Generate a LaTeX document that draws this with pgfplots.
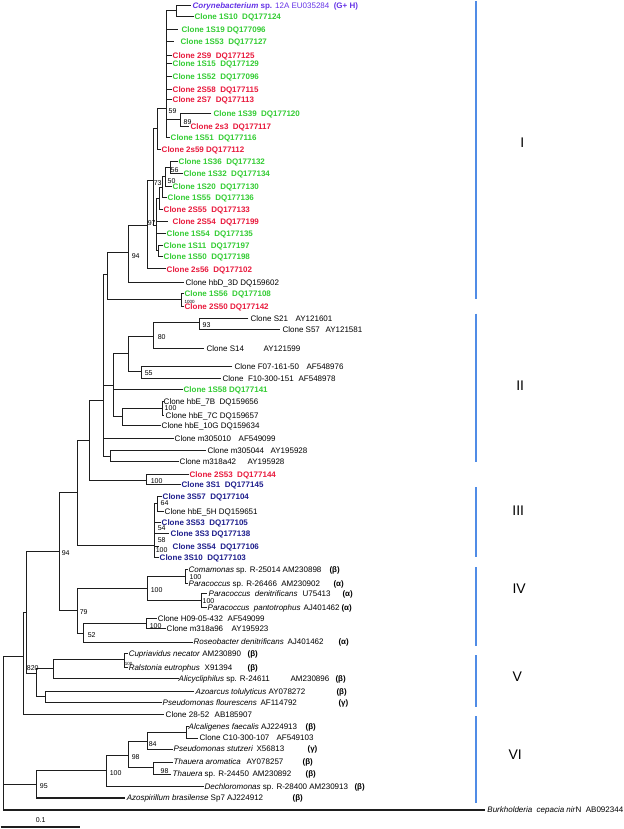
\documentclass[border=0pt]{standalone}
\usepackage{pgfplots}
\pgfplotsset{compat=1.18}
\usepackage{fontspec}
\setmainfont{Liberation Sans}
\definecolor{cg}{RGB}{51,204,51}
\definecolor{cr}{RGB}{232,25,60}
\definecolor{cb}{RGB}{30,30,140}
\definecolor{cp}{RGB}{100,50,230}
\definecolor{bar}{RGB}{80,140,230}
\definecolor{tree}{RGB}{30,30,30}
\tikzset{lbl/.style={anchor=base west,inner sep=0pt,yshift=-2.9pt,font=\fontsize{8}{9.6}\selectfont},
 bs/.style={anchor=base west,inner sep=0pt,yshift=-2.5pt,font=\fontsize{7}{8}\selectfont},
 rn/.style={anchor=center,inner sep=0pt,font=\fontsize{14}{16}\selectfont}}
\newcommand{\lab}[4]{\node[lbl,text=#3] at (axis cs:#1,#2) {#4};}
\newcommand{\bsl}[3]{\node[bs] at (axis cs:#1,#2) {#3};}
\begin{document}
\begin{tikzpicture}
\begin{axis}[scale only axis, width=620pt, height=829pt, xmin=0, xmax=620, ymin=0, ymax=829,
  y dir=reverse, hide axis, clip=false]
\addplot[draw=none] coordinates {(0,0) (620,829)};
% tree branches
\addplot[tree, line width=1.1pt, unbounded coords=jump, mark=none] coordinates {
(190,5)(176,5)(176,16)(193,16) (nan,nan)
(176,10)(166,10)(166,137)(169,137) (nan,nan)
(166,29)(177,29) (nan,nan) (166,41)(173,41) (nan,nan) (166,55)(171,55) (nan,nan)
(166,63)(171,63) (nan,nan) (166,76)(171,76) (nan,nan) (166,89)(171,89) (nan,nan)
(166,99)(171,99) (nan,nan) (166,119)(180,119) (nan,nan)
(211,113)(180,113)(180,126)(188,126) (nan,nan)
(166,108)(157,108)(157,149)(160,149) (nan,nan)
(157,128)(153,128)(153,225)(156,225) (nan,nan)
(177,161)(170,161)(170,173)(182,173) (nan,nan)
(170,167)(165,167)(165,186)(171,186) (nan,nan)
(165,176)(162,176)(162,197)(166,197) (nan,nan)
(162,187)(159,187)(159,209)(162,209) (nan,nan)
(159,198)(156,198)(156,250)(158,250) (nan,nan)
(156,221)(167,221) (nan,nan) (156,233)(165,233) (nan,nan)
(162,245)(158,245)(158,256)(162,256) (nan,nan)
(153,180)(147,180)(147,268)(165,268) (nan,nan)
(147,225)(128,225)(128,282)(183,282) (nan,nan)
(128,252)(107,252)(107,299)(181,299) (nan,nan)
(183,293)(181,293)(181,306)(183,306) (nan,nan)
(107,274)(103,274)(103,456)(110,456) (nan,nan)
(103,385)(113,385) (nan,nan) (103,438)(173,438) (nan,nan)
(128,353)(113,353)(113,416)(122,416) (nan,nan)
(113,389)(182,389) (nan,nan)
(153,336)(128,336)(128,371)(141,371) (nan,nan)
(199,322)(153,322)(153,348)(203,348) (nan,nan)
(248,318)(199,318)(199,329)(280,329) (nan,nan)
(232,366)(141,366)(141,378)(221,378) (nan,nan)
(162,408)(122,408)(122,425)(160,425) (nan,nan)
(163,401)(162,401)(162,415)(163,415) (nan,nan)
(205,450)(110,450)(110,461)(178,461) (nan,nan)
(103,400)(89,400)(89,480)(146,480) (nan,nan)
(188,474)(146,474)(146,484)(180,484) (nan,nan)
(89,440)(77,440)(77,545)(154,545) (nan,nan)
(157,503)(154,503)(154,557)(158,557) (nan,nan)
(154,522)(160,522) (nan,nan) (154,533)(168,533) (nan,nan) (154,546)(158,546) (nan,nan)
(161,496)(157,496)(157,511)(163,511) (nan,nan)
(77,492)(59,492)(59,610)(77,610) (nan,nan)
(147,588)(77,588)(77,633)(83,633) (nan,nan)
(185,576)(147,576)(147,600)(201,600) (nan,nan)
(187,569)(185,569)(185,583)(187,583) (nan,nan)
(206,593)(201,593)(201,607)(206,607) (nan,nan)
(146,623)(83,623)(83,642)(192,642) (nan,nan)
(156,618)(146,618)(146,628)(165,628) (nan,nan)
(59,551)(26,551)(26,673)(36,673) (nan,nan)
(53,668)(36,668)(36,696)(45,696) (nan,nan)
(124,659)(53,659)(53,678)(178,678) (nan,nan)
(127,653)(124,653)(124,667)(127,667) (nan,nan)
(193,691)(45,691)(45,702)(161,702) (nan,nan)
(26,612)(23,612)(23,714)(163,714) (nan,nan)
(23,656)(3,656)(3,810)(485,810) (nan,nan)
(3,784)(36,784) (nan,nan)
(106,770)(36,770)(36,798)(124,798) (nan,nan)
(128,755)(106,755)(106,786)(203,786) (nan,nan)
(147,741)(128,741)(128,767)(153,767) (nan,nan)
(186,732)(147,732)(147,749)(172,749) (nan,nan)
(188,726)(186,726)(186,738)(197,738) (nan,nan)
(172,762)(153,762)(153,774)(170,774)
};
% group bars
\addplot[bar, line width=1.6pt, unbounded coords=jump] coordinates {
(476,0)(476,298) (nan,nan) (476,313)(476,462) (nan,nan) (476,487)(476,557) (nan,nan)
(476,567)(476,646) (nan,nan) (476,655)(476,707) (nan,nan) (476,716)(476,803)};
% scale bar
\addplot[tree, line width=1.4pt] coordinates {(0,827)(79,827)};
\node[bs, anchor=center, yshift=0pt] at (axis cs:40,818) {0.1};
% roman numerals
\node[rn] at (axis cs:522,142) {I};
\node[rn] at (axis cs:520,385) {II};
\node[rn] at (axis cs:518,510) {III};
\node[rn] at (axis cs:519,588) {IV};
\node[rn] at (axis cs:517,677) {V};
\node[rn] at (axis cs:515,755) {VI};
% labels
\lab{192}{5}{cp}{\textbf{\textit{Corynebacterium} sp.} 12A EU035284~~\textbf{(G+ H)}}
\lab{194}{16}{cg}{\textbf{Clone 1S10~~DQ177124}}
\lab{181}{29}{cg}{\textbf{Clone 1S19 DQ177096}}
\lab{180}{41}{cg}{\textbf{Clone 1S53~~DQ177127}}
\lab{172}{55}{cr}{\textbf{Clone 2S9~~DQ177125}}
\lab{172}{63}{cg}{\textbf{Clone 1S15~~DQ177129}}
\lab{172}{76}{cg}{\textbf{Clone 1S52~~DQ177096}}
\lab{172}{89}{cr}{\textbf{Clone 2S58~~DQ177115}}
\lab{172}{99}{cr}{\textbf{Clone 2S7~~DQ177113}}
\lab{213}{113}{cg}{\textbf{Clone 1S39~~DQ177120}}
\lab{190}{126}{cr}{\textbf{Clone 2s3~~DQ177117}}
\lab{170}{137}{cg}{\textbf{Clone 1S51~~DQ177116}}
\lab{161}{149}{cr}{\textbf{Clone 2s59 DQ177112}}
\lab{178}{161}{cg}{\textbf{Clone 1S36~~DQ177132}}
\lab{183}{173}{cg}{\textbf{Clone 1S32~~DQ177134}}
\lab{172}{186}{cg}{\textbf{Clone 1S20~~DQ177130}}
\lab{167}{197}{cg}{\textbf{Clone 1S55~~DQ177136}}
\lab{163}{209}{cr}{\textbf{Clone 2S55~~DQ177133}}
\lab{172}{221}{cr}{\textbf{Clone 2S54~~DQ177199}}
\lab{166}{233}{cg}{\textbf{Clone 1S54~~DQ177135}}
\lab{163}{245}{cg}{\textbf{Clone 1S11~~DQ177197}}
\lab{163}{256}{cg}{\textbf{Clone 1S50~~DQ177198}}
\lab{166}{269}{cr}{\textbf{Clone 2s56~~DQ177102}}
\lab{185}{282}{black}{Clone hbD\_3D DQ159602}
\lab{184}{293}{cg}{\textbf{Clone 1S56~~DQ177108}}
\lab{184}{306}{cr}{\textbf{Clone 2S50 DQ177142}}
\lab{250}{318}{black}{Clone S21} \lab{295}{318}{black}{AY121601}
\lab{282}{329}{black}{Clone S57} \lab{325}{329}{black}{AY121581}
\lab{206}{348}{black}{Clone S14} \lab{263}{348}{black}{AY121599}
\lab{234}{366}{black}{Clone F07-161-50} \lab{306}{366}{black}{AF548976}
\lab{222}{378}{black}{Clone~ F10-300-151} \lab{298}{378}{black}{AF548978}
\lab{183}{389}{cg}{\textbf{Clone 1S58 DQ177141}}
\lab{163}{401}{black}{Clone hbE\_7B~~DQ159656}
\lab{165}{415}{black}{Clone hbE\_7C DQ159657}
\lab{161}{425}{black}{Clone hbE\_10G DQ159634}
\lab{174}{438}{black}{Clone m305010} \lab{238}{438}{black}{AF549099}
\lab{207}{450}{black}{Clone m305044} \lab{270}{450}{black}{AY195928}
\lab{179}{461}{black}{Clone m318a42} \lab{247}{461}{black}{AY195928}
\lab{189}{474}{cr}{\textbf{Clone 2S53~~DQ177144}}
\lab{181}{484}{cb}{\textbf{Clone 3S1~~DQ177145}}
\lab{162}{496}{cb}{\textbf{Clone 3S57~~DQ177104}}
\lab{164}{511}{black}{Clone hbE\_5H DQ159651}
\lab{161}{522}{cb}{\textbf{Clone 3S53~~DQ177105}}
\lab{170}{533}{cb}{\textbf{Clone 3S3 DQ177138}}
\lab{172}{546}{cb}{\textbf{Clone 3S54~~DQ177106}}
\lab{159}{557}{cb}{\textbf{Clone 3S10~~DQ177103}}
\lab{188}{569}{black}{\textit{Comamonas} sp. R-25014 AM230898} \lab{329}{569}{black}{\textbf{(β)}}
\lab{188}{583}{black}{\textit{Paracoccus} sp. R-26466~~AM230902} \lab{333}{583}{black}{\textbf{(α)}}
\lab{208}{593}{black}{\textit{Paracoccus~~denitrificans}} \lab{302}{593}{black}{U75413} \lab{342}{593}{black}{\textbf{(α)}}
\lab{207}{607}{black}{\textit{Paracoccus~~pantotrophus}} \lab{303}{607}{black}{AJ401462} \lab{341}{607}{black}{\textbf{(α)}}
\lab{157}{618}{black}{Clone H09-05-432} \lab{227}{618}{black}{AF549099}
\lab{166}{628}{black}{Clone m318a96} \lab{231}{628}{black}{AY195923}
\lab{193}{641}{black}{\textit{Roseobacter denitrificans}} \lab{287}{641}{black}{AJ401462} \lab{338}{641}{black}{\textbf{(α)}}
\lab{128}{653}{black}{\textit{Cupriavidus necator} AM230890} \lab{247}{653}{black}{\textbf{(β)}}
\lab{128}{667}{black}{\textit{Ralstonia eutrophus}} \lab{204}{667}{black}{X91394} \lab{247}{667}{black}{\textbf{(β)}}
\lab{178}{678}{black}{\textit{Alicycliphilus} sp. R-24611} \lab{290}{678}{black}{AM230896} \lab{335}{678}{black}{\textbf{(β)}}
\lab{195}{691}{black}{\textit{Azoarcus tolulyticus} AY078272} \lab{336}{691}{black}{\textbf{(β)}}
\lab{162}{702}{black}{\textit{Pseudomonas flourescens}} \lab{260}{702}{black}{AF114792} \lab{338}{702}{black}{\textbf{(γ)}}
\lab{165}{714}{black}{Clone 28-52} \lab{214}{714}{black}{AB185907}
\lab{188}{726}{black}{\textit{Alcaligenes faecalis} AJ224913} \lab{305}{726}{black}{\textbf{(β)}}
\lab{199}{738}{black}{Clone C10-300-107} \lab{276}{738}{black}{AF549103}
\lab{173}{749}{black}{\textit{Pseudomonas stutzeri}} \lab{256}{749}{black}{X56813} \lab{307}{749}{black}{\textbf{(γ)}}
\lab{173}{762}{black}{\textit{Thauera aromatica}} \lab{246}{762}{black}{AY078257} \lab{302}{762}{black}{\textbf{(β)}}
\lab{172}{774}{black}{\textit{Thauera} sp. R-24450} \lab{252}{774}{black}{AM230892} \lab{305}{774}{black}{\textbf{(β)}}
\lab{204}{787}{black}{\textit{Dechloromonas} sp. R-28400 AM230913} \lab{354}{787}{black}{\textbf{(β)}}
\lab{126}{798}{black}{\textit{Azospirillum brasilense} Sp7 AJ224912} \lab{292}{798}{black}{\textbf{(β)}}
\lab{487}{810}{black}{\textit{Burkholderia~ cepacia nir}N~~AB092344}
% bootstrap values
\bsl{168}{110}{59} \bsl{183}{121}{89} \bsl{170}{169}{56} \bsl{167}{180}{50}
\bsl{153}{182}{73} \bsl{147}{222}{97} \bsl{131}{255}{94}
\node[bs, font=\fontsize{4.5}{5}\selectfont, yshift=-1.5pt] at (axis cs:184,299) {1000};
\bsl{202}{325}{93} \bsl{157}{337}{80} \bsl{144}{373}{55} \bsl{164}{408}{100}
\bsl{150}{481}{100} \bsl{160}{503}{64} \bsl{157}{528}{54} \bsl{157}{540}{58}
\bsl{155}{550}{100} \bsl{61}{553}{94} \bsl{189}{577}{100} \bsl{150}{590}{100}
\bsl{202}{601}{100} \bsl{79}{612}{79} \bsl{149}{626}{100} \bsl{87}{635}{52}
\node[bs, font=\fontsize{4.5}{5}\selectfont, yshift=-1.5pt] at (axis cs:124,661) {100};
\bsl{26}{668}{820} \bsl{148}{744}{84} \bsl{131}{757}{98} \bsl{160}{771}{98}
\bsl{109}{773}{100} \bsl{39}{786}{95}
\end{axis}
\end{tikzpicture}
\end{document}
